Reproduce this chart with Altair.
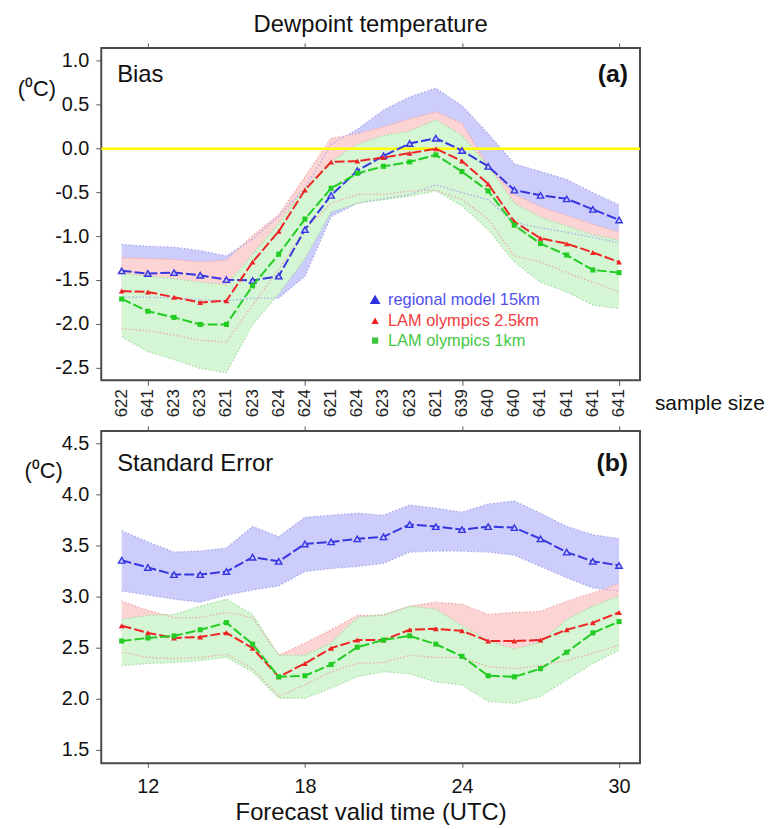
import altair as alt
import pandas as pd

# ---------------- data ----------------
hours = list(range(11, 31))
sample_size = [622, 641, 623, 623, 621, 623, 624, 624, 621, 624,
               623, 623, 621, 639, 640, 640, 641, 641, 641, 641]
series_names = ["regional model 15km", "LAM olympics 2.5km", "LAM olympics 1km"]

# (a) Bias
bias_reg = [-1.39, -1.42, -1.41, -1.44, -1.49, -1.50, -1.45, -0.92, -0.53, -0.25,
            -0.08, 0.06, 0.12, -0.02, -0.20, -0.47, -0.53, -0.57, -0.69, -0.81]
bias_reg_lo = [-1.69, -1.69, -1.70, -1.72, -1.73, -1.70, -1.70, -1.45, -0.77, -0.62,
               -0.57, -0.52, -0.41, -0.50, -0.58, -0.84, -0.90, -0.95, -1.01, -1.07]
bias_reg_hi = [-1.09, -1.11, -1.12, -1.16, -1.22, -1.03, -0.77, -0.45, 0.05, 0.22,
               0.44, 0.59, 0.69, 0.49, 0.17, -0.17, -0.26, -0.35, -0.50, -0.64]

bias_25 = [-1.62, -1.63, -1.69, -1.75, -1.73, -1.29, -0.94, -0.47, -0.15, -0.14,
           -0.10, -0.05, 0.00, -0.14, -0.40, -0.83, -1.02, -1.08, -1.18, -1.29]
bias_25_lo = [-2.05, -2.07, -2.12, -2.18, -2.20, -1.78, -1.37, -0.92, -0.62, -0.52,
              -0.52, -0.48, -0.47, -0.58, -0.80, -1.22, -1.29, -1.41, -1.52, -1.63]
bias_25_hi = [-1.24, -1.25, -1.26, -1.29, -1.27, -0.99, -0.75, -0.32, 0.12, 0.17,
              0.25, 0.34, 0.42, 0.29, -0.20, -0.52, -0.66, -0.76, -0.86, -0.95]

bias_1 = [-1.71, -1.85, -1.92, -2.00, -2.00, -1.56, -1.20, -0.80, -0.45, -0.28,
          -0.20, -0.15, -0.07, -0.26, -0.48, -0.87, -1.08, -1.21, -1.38, -1.41]
bias_1_lo = [-2.14, -2.31, -2.40, -2.50, -2.55, -2.00, -1.65, -1.25, -0.72, -0.62,
             -0.58, -0.54, -0.48, -0.65, -0.92, -1.29, -1.52, -1.63, -1.78, -1.82]
bias_1_hi = [-1.42, -1.45, -1.48, -1.52, -1.55, -1.20, -0.85, -0.45, -0.15, 0.05,
             0.15, 0.20, 0.33, 0.15, -0.20, -0.62, -0.78, -0.88, -0.98, -1.04]

# (b) Standard error
se_reg = [3.36, 3.29, 3.22, 3.22, 3.25, 3.39, 3.35, 3.52, 3.54, 3.57,
          3.59, 3.71, 3.69, 3.66, 3.69, 3.68, 3.57, 3.44, 3.35, 3.31]
se_reg_lo = [3.06, 3.02, 2.98, 2.95, 3.02, 3.07, 3.11, 3.25, 3.28, 3.30,
             3.33, 3.44, 3.45, 3.45, 3.44, 3.41, 3.30, 3.19, 3.09, 3.06]
se_reg_hi = [3.65, 3.54, 3.44, 3.45, 3.48, 3.69, 3.59, 3.78, 3.80, 3.82,
             3.80, 3.90, 3.87, 3.83, 3.91, 3.94, 3.82, 3.69, 3.61, 3.57]

se_25 = [2.72, 2.65, 2.60, 2.61, 2.65, 2.50, 2.22, 2.35, 2.50, 2.58,
         2.58, 2.68, 2.69, 2.67, 2.57, 2.57, 2.58, 2.68, 2.75, 2.85]
se_25_lo = [2.46, 2.41, 2.40, 2.41, 2.44, 2.30, 2.03, 2.14, 2.27, 2.35,
            2.36, 2.43, 2.41, 2.41, 2.32, 2.30, 2.33, 2.38, 2.45, 2.53]
se_25_hi = [2.96, 2.87, 2.80, 2.80, 2.85, 2.80, 2.43, 2.55, 2.68, 2.82,
            2.82, 2.91, 2.95, 2.93, 2.83, 2.85, 2.86, 2.96, 3.04, 3.13]

se_1 = [2.57, 2.60, 2.62, 2.68, 2.75, 2.54, 2.22, 2.23, 2.34, 2.51,
        2.58, 2.62, 2.54, 2.42, 2.23, 2.22, 2.30, 2.46, 2.65, 2.76]
se_1_lo = [2.33, 2.35, 2.36, 2.38, 2.41, 2.27, 2.01, 2.01, 2.11, 2.22,
           2.27, 2.25, 2.17, 2.14, 1.98, 1.96, 2.03, 2.19, 2.35, 2.48]
se_1_hi = [2.78, 2.82, 2.83, 2.91, 2.98, 2.83, 2.43, 2.43, 2.55, 2.80,
           2.83, 2.91, 2.88, 2.72, 2.57, 2.49, 2.56, 2.78, 2.91, 3.01]

x_ticks = [12, 18, 24, 30]
bias_ticks = [1.0, 0.5, 0.0, -0.5, -1.0, -1.5, -2.0, -2.5]
se_ticks = [4.5, 4.0, 3.5, 3.0, 2.5, 2.0, 1.5]

# ---------------- styling ----------------
FONT = "Liberation Sans"
W, H = 543, 335
x_scale = alt.Scale(domain=[10.22, 30.8], nice=False, zero=False)

LINE = {"reg": "#3636e0", "r25": "#ee2424", "r1": "#22cc22"}
FILL = {"reg": "#cdcdfb", "r25": "#fdd4d4", "r1": "#d4f6d4"}
EDGE = {"reg": "#a9a9ee", "r25": "#eeaaaa", "r1": "#a8dca8"}
LEGTXT = {"reg": "#5050ee", "r25": "#f03c3c", "r1": "#44c844"}


def frame(v, lo, hi):
    return pd.DataFrame({"hour": hours, "value": v, "lo": lo, "hi": hi})


def X(axis=None):
    return alt.X("hour:Q", scale=x_scale, axis=axis)


def txt(s):
    return pd.DataFrame({"t": [s]})


top_axis = alt.Axis(orient="top", values=x_ticks, labels=False, tickSize=5,
                    domain=False, grid=False, title=None)


def panel(datasets, y_domain, y_ticks, bottom_axis, ytitle_x, ytitle_y,
          label, label_y, tag, tag_y, zero=False, extras=None):
    ys = alt.Scale(domain=y_domain, nice=False, zero=False)

    def Y(field):
        return alt.Y(field, scale=ys, axis=None)

    first_df = datasets[0][1]
    tick_df = pd.DataFrame({"v": y_ticks, "lab": [f"{v:.1f}" for v in y_ticks]})
    layers = [
        # invisible carrier layers for the x axes (bottom and top ticks)
        alt.Chart(first_df).mark_point(opacity=0).encode(
            x=X(bottom_axis), y=Y("value:Q")),
        alt.Chart(first_df).mark_point(opacity=0).encode(
            x=X(top_axis), y=Y("value:Q")),
        # left y axis: ticks, labels and unit
        alt.Chart(tick_df).mark_rule(color="#555", strokeWidth=1).encode(
            x=alt.value(-5), x2=alt.value(0), y=Y("v:Q")),
        alt.Chart(tick_df).mark_text(align="right", baseline="middle", fontSize=20,
                                     color="#111").encode(
            x=alt.value(-12), y=Y("v:Q"), text="lab:N"),
        alt.Chart(txt("(\u2070C)")).mark_text(align="center", baseline="middle",
                                              fontSize=22, color="#111").encode(
            x=alt.value(ytitle_x), y=alt.value(ytitle_y), text="t:N"),
    ]
    for key, df in datasets:
        layers.append(alt.Chart(df).mark_area(color=FILL[key], opacity=1).encode(
            x=X(), y=Y("lo:Q"), y2="hi:Q"))
    for key, df in datasets:
        for f in ["lo", "hi"]:
            layers.append(alt.Chart(df).mark_line(
                color=EDGE[key], strokeDash=[1.5, 2], strokeWidth=1.3).encode(
                x=X(), y=Y(f"{f}:Q")))
    if zero:
        layers.append(alt.Chart(pd.DataFrame({"z": [0.0]})).mark_rule(
            color="#ffff00", strokeWidth=2.5).encode(y=Y("z:Q")))
    for key, df in datasets:
        layers.append(alt.Chart(df).mark_line(
            color=LINE[key], strokeDash=[10, 3], strokeWidth=2).encode(
            x=X(), y=Y("value:Q")))
        if key == "reg":
            pt = alt.Chart(df).mark_point(shape="triangle-up", filled=True,
                                          fill="#c4c4ff", stroke=LINE[key],
                                          strokeWidth=1.4, size=42, opacity=1)
        elif key == "r25":
            pt = alt.Chart(df).mark_point(shape="triangle-up", filled=True,
                                          color=LINE[key], size=34, opacity=1)
        else:
            pt = alt.Chart(df).mark_point(shape="square", filled=True,
                                          color=LINE[key], size=26, opacity=1)
        layers.append(pt.encode(x=X(), y=Y("value:Q")))
    layers.append(alt.Chart(txt(label)).mark_text(
        align="left", baseline="alphabetic", fontSize=24, color="#111").encode(
        x=alt.value(16), y=alt.value(label_y), text="t:N"))
    layers.append(alt.Chart(txt(tag)).mark_text(
        align="right", baseline="alphabetic", fontSize=25, fontWeight="bold",
        color="#111").encode(x=alt.value(W - 12), y=alt.value(tag_y), text="t:N"))
    if extras:
        layers.extend(extras)
    return alt.layer(*layers).properties(width=W, height=H)


# sample size labels + legend for panel (a)
ss_df = pd.DataFrame({"hour": hours, "n": sample_size})
extras_a = [
    alt.Chart(ss_df).mark_text(angle=270, align="right", baseline="middle",
                               fontSize=17, color="#222").encode(
        x=X(), y=alt.value(H + 9), text="n:N"),
    alt.Chart(txt("sample size")).mark_text(align="left", baseline="middle",
                                            fontSize=21, color="#111").encode(
        x=alt.value(W + 15), y=alt.value(H + 24), text="t:N"),
]
leg_keys = ["reg", "r25", "r1"]
leg_y = [254, 275, 295]
for key, name, yy in zip(leg_keys, series_names, leg_y):
    if key == "reg":
        m = alt.Chart(txt(name)).mark_point(shape="triangle-up", filled=True,
                                            fill="#3030e0", stroke="#3030e0",
                                            size=55, opacity=1)
    elif key == "r25":
        m = alt.Chart(txt(name)).mark_point(shape="triangle-up", filled=True,
                                            color="#ee1c1c", size=55, opacity=1)
    else:
        m = alt.Chart(txt(name)).mark_point(shape="square", filled=True,
                                            color="#3cc83c", size=40, opacity=1)
    extras_a.append(m.encode(x=alt.value(276), y=alt.value(yy)))
    extras_a.append(alt.Chart(txt(name)).mark_text(
        align="left", baseline="middle", fontSize=16.5, color=LEGTXT[key]).encode(
        x=alt.value(289), y=alt.value(yy), text="t:N"))

bottom_a = alt.Axis(orient="bottom", values=x_ticks, labels=False, tickSize=5,
                    domain=False, grid=False, title=None)
bottom_b = alt.Axis(orient="bottom", values=x_ticks, labelFontSize=20, tickSize=4,
                    labelPadding=9, domain=False, grid=False,
                    title="Forecast valid time (UTC)", titleFontSize=24,
                    titleFontWeight="normal", titlePadding=5)

panel_a = panel(
    [("reg", frame(bias_reg, bias_reg_lo, bias_reg_hi)),
     ("r25", frame(bias_25, bias_25_lo, bias_25_hi)),
     ("r1", frame(bias_1, bias_1_lo, bias_1_hi))],
    [-2.636, 1.148], bias_ticks, bottom_a, -65, 41,
    "Bias", 34, "(a)", 34, zero=True, extras=extras_a,
).properties(title=alt.TitleParams("Dewpoint temperature", fontSize=24,
                                   fontWeight="normal", anchor="middle",
                                   frame="group", offset=6, color="#111"))

panel_b = panel(
    [("reg", frame(se_reg, se_reg_lo, se_reg_hi)),
     ("r25", frame(se_25, se_25_lo, se_25_hi)),
     ("r1", frame(se_1, se_1_lo, se_1_hi))],
    [1.374, 4.626], se_ticks, bottom_b, -58, 40,
    "Standard Error", 40, "(b)", 40,
)

chart = alt.vconcat(panel_a, panel_b, spacing=51, bounds="flush").properties(
    padding={"left": 8, "top": 0, "right": 0, "bottom": 0}
).configure(font=FONT).configure_view(
    stroke="#4a4a4a", strokeWidth=2
).configure_axis(
    labelFont=FONT, titleFont=FONT, labelColor="#111", titleColor="#111",
    tickColor="#555"
).configure_title(font=FONT)

chart.save("out.html", embed_options={"renderer": "svg", "actions": False})
